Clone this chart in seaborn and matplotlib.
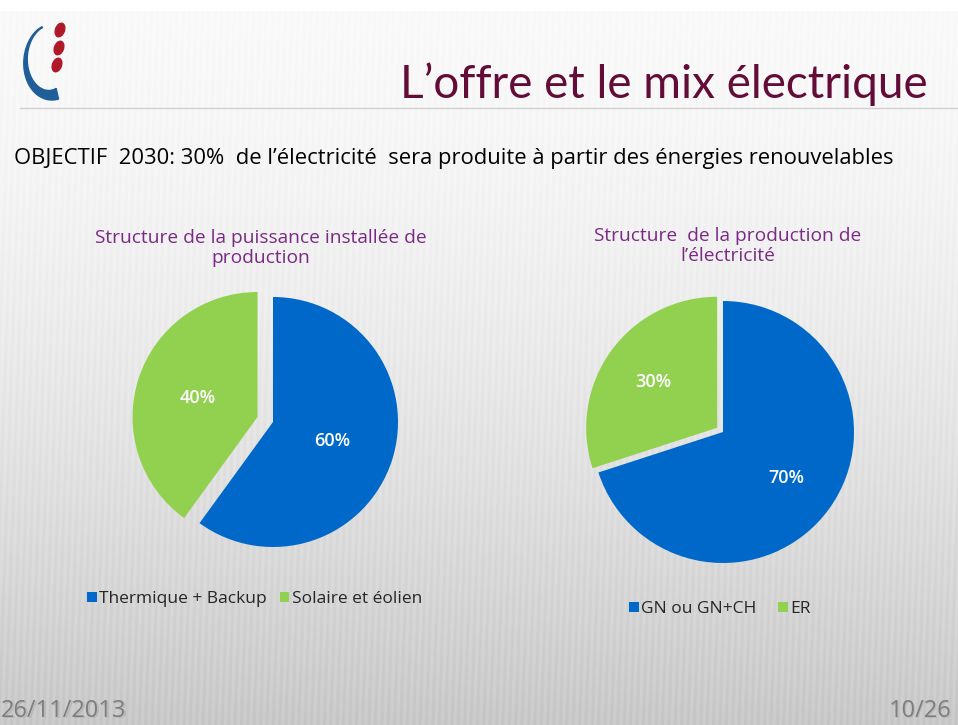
import numpy as np
import matplotlib
matplotlib.use("Agg")
import matplotlib.pyplot as plt
import matplotlib.patches as mpatches
import seaborn as sns

# Données
labels_puissance = ["Thermique + Backup", "Solaire et éolien"]
parts_puissance = [60, 40]
labels_production = ["GN ou GN+CH", "ER"]
parts_production = [70, 30]
couleurs = ["#0068C8", "#92D050"]

titre = "L\u2019offre et le mix électrique"
objectif = "OBJECTIF  2030: 30%  de l\u2019électricité  sera produite à partir des énergies renouvelables"
titre_gauche = "Structure de la puissance installée de\nproduction"
titre_droite = "Structure  de la production de\nl\u2019électricité"

sns.set_theme(style="white")
plt.rcParams['font.family'] = ['Open Sans', 'DejaVu Sans']

W, H = 958, 725
fig = plt.figure(figsize=(W / 100, H / 100), dpi=100)

# fond de diapositive (axes en pixels)
bg = fig.add_axes([0, 0, 1, 1])
bg.set_xlim(0, W)
bg.set_ylim(H, 0)
bg.axis("off")
yy = np.linspace(0, 1, 300)[:, None]
grad = 0.975 - 0.19 * yy ** 1.6
xx = np.linspace(0, 1, 958)[None, :]
stripes = 0.014 * np.sin(xx * 2 * np.pi * 150 + yy * 25) * (0.3 + yy)
img = np.clip(grad + stripes, 0, 1)
bg.imshow(img, cmap="gray", vmin=0, vmax=1, extent=[0, W, H, 10], aspect="auto", zorder=0)
bg.axhspan(0, 10, color="white", zorder=1)
bg.plot([20, W], [108, 108], color="#CFCFCF", lw=1, zorder=2)

# logo
t = np.linspace(0, 1, 60)
ang = np.pi * (0.62 + 0.95 * t)
outer_x = 52 + 30 * np.cos(ang) * (0.9 + 0.1 * t)
outer_y = 62 - 38 * np.sin(ang)
thick = 1 + 10 * t ** 1.5
inner_x = outer_x - thick * np.cos(ang)
inner_y = outer_y + thick * np.sin(ang)
poly = np.vstack([np.column_stack([outer_x, outer_y]),
                  np.column_stack([inner_x[::-1], inner_y[::-1]])])
bg.add_patch(mpatches.Polygon(poly, closed=True, color="#1F5E99", zorder=3))
for cx, cy in [(60, 30), (59, 48), (57, 65)]:
    bg.add_patch(mpatches.Ellipse((cx, cy), 9, 14, angle=20, color="#B0192A", zorder=3))

bg.text(928, 84, titre, ha="right", va="center", fontsize=33, color="#640C38",
        fontweight="normal", family=["Lato", "DejaVu Sans"], zorder=4)
bg.text(14, 158, objectif, ha="left", va="center", fontsize=15.8, color="black", zorder=4)
bg.text(261, 248, titre_gauche, ha="center", va="center", fontsize=13.8,
        color="#7A2A85", linespacing=1.2, zorder=4)
bg.text(728, 246, titre_droite, ha="center", va="center", fontsize=13.8,
        color="#7A2A85", linespacing=1.2, zorder=4)
for x, ha, s in [(1, "left", "26/11/2013"), (951, "right", "10/26")]:
    bg.text(x + 1.5, 712.5, s, ha=ha, va="center", fontsize=17, color="#B8B8B8", zorder=4)
    bg.text(x, 711, s, ha=ha, va="center", fontsize=17, color="#7E7E7E", zorder=5)


def camembert(cx, cy, r, valeurs, noms, explode, pctdist, leg_xy, colsp):
    size = 300
    ax = fig.add_axes([(cx - size / 2) / W, (H - cy - size / 2) / H, size / W, size / H])
    lim = size / 2 / r
    wedges, _, autotexts = ax.pie(valeurs, colors=couleurs, startangle=90, counterclock=False,
                                  explode=[0, explode], autopct="%d%%", pctdistance=pctdist,
                                  wedgeprops=dict(linewidth=0, edgecolor="none"),
                                  textprops=dict(color="white", fontsize=13, fontweight="semibold"))
    ax.set_xlim(-lim, lim)
    ax.set_ylim(-lim, lim)
    ax.set_aspect("equal")
    ax.axis("off")
    fig.legend(wedges, noms, loc="center left", bbox_to_anchor=(leg_xy[0] / W, 1 - leg_xy[1] / H),
               ncol=2, frameon=False, fontsize=12.5, handlelength=0.55, handleheight=0.55,
               handletextpad=0.15, columnspacing=colsp, borderaxespad=0, borderpad=0)
    return ax


camembert(273, 422, 125, parts_puissance, labels_puissance, 0.13, 0.5, (87, 599), 0.75)
camembert(723, 432, 131, parts_production, labels_production, 0.055, 0.6, (629, 609), 1.25)

fig.savefig("out.png", dpi=100)
